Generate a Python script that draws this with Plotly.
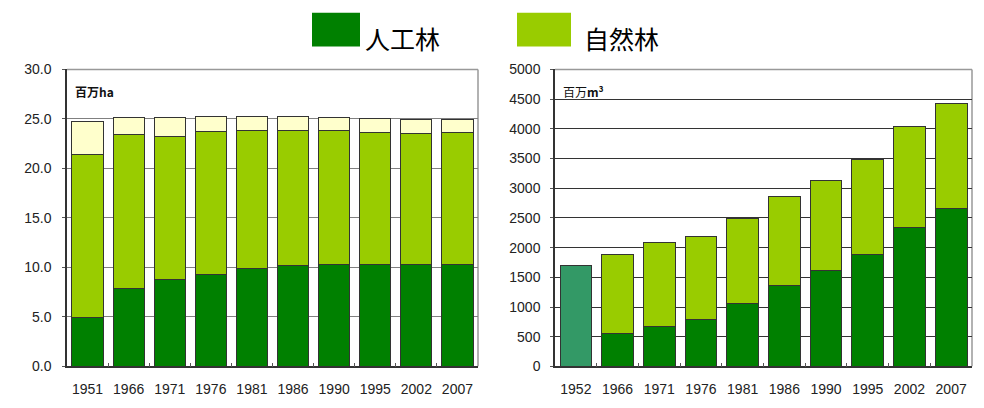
import plotly.graph_objects as go

# ---- data ----
years_area = ["1951", "1966", "1971", "1976", "1981", "1986", "1990", "1995", "2002", "2007"]
area_planted = [4.9, 7.9, 8.8, 9.3, 9.9, 10.2, 10.3, 10.3, 10.3, 10.3]      # 人工林 (百万ha)
area_natural = [16.5, 15.5, 14.4, 14.4, 13.9, 13.6, 13.5, 13.3, 13.2, 13.3]  # 自然林
area_other = [3.3, 1.7, 1.9, 1.5, 1.4, 1.4, 1.3, 1.4, 1.45, 1.35]           # その他

years_stock = ["1952", "1966", "1971", "1976", "1981", "1986", "1990", "1995", "2002", "2007"]
stock_total_only = [1700, None, None, None, None, None, None, None, None, None]  # 総数のみ
stock_planted = [None, 558, 679, 797, 1054, 1366, 1609, 1892, 2335, 2651]        # 人工林 (百万m3)
stock_natural = [None, 1329, 1400, 1389, 1430, 1496, 1529, 1591, 1705, 1781]     # 自然林

area_ticks = [0, 5, 10, 15, 20, 25, 30]
stock_ticks = [0, 500, 1000, 1500, 2000, 2500, 3000, 3500, 4000, 4500, 5000]

# ---- styles ----
C_PLANTED = "#008000"
C_NATURAL = "#99CC00"
C_OTHER = "#FFFFCC"
C_TOTAL = "#339966"
OUTLINE = dict(color="#333333", width=1)
FONT = "Liberation Sans, Arial, sans-serif"
CJK = "Noto Sans CJK JP, sans-serif"

W, H = 984, 408
L1, R1 = 67, 478
L2, R2 = 555, 972
TOP, BOT = 64, 373

def px_x(v):
    return v / W

def px_y(v):
    return 1 - v / H

fig = go.Figure()

fig.add_trace(go.Bar(x=years_area, y=area_planted, marker=dict(color=C_PLANTED, line=OUTLINE),
                     xaxis="x", yaxis="y", name="人工林"))
fig.add_trace(go.Bar(x=years_area, y=area_natural, marker=dict(color=C_NATURAL, line=OUTLINE),
                     xaxis="x", yaxis="y", name="自然林"))
fig.add_trace(go.Bar(x=years_area, y=area_other, marker=dict(color=C_OTHER, line=OUTLINE),
                     xaxis="x", yaxis="y", name="その他"))

fig.add_trace(go.Bar(x=years_stock, y=stock_total_only, marker=dict(color=C_TOTAL, line=OUTLINE),
                     xaxis="x2", yaxis="y2", name="総数"))
fig.add_trace(go.Bar(x=years_stock, y=stock_planted, marker=dict(color=C_PLANTED, line=OUTLINE),
                     xaxis="x2", yaxis="y2", name="人工林"))
fig.add_trace(go.Bar(x=years_stock, y=stock_natural, marker=dict(color=C_NATURAL, line=OUTLINE),
                     xaxis="x2", yaxis="y2", name="自然林"))

ydom = [px_y(BOT), px_y(TOP)]

common_x = dict(type="category", showgrid=False, ticks="inside", tickson="boundaries",
                ticklen=4, tickcolor="#555555", showline=True, linecolor="#333333", linewidth=1.5,
                tickfont=dict(family=FONT, size=14, color="#222222"), ticklabelstandoff=9)

fig.update_layout(
    width=W, height=H,
    margin=dict(l=0, r=0, t=0, b=0),
    paper_bgcolor="white", plot_bgcolor="white",
    barmode="stack", bargap=0.24,
    showlegend=False,
    xaxis=dict(domain=[px_x(L1), px_x(R1)], anchor="y", **common_x),
    yaxis=dict(domain=ydom, anchor="x", range=[0, 30], tickvals=area_ticks,
               ticktext=[f"{v:.1f}" for v in area_ticks],
               showgrid=True, gridcolor="#808080", gridwidth=1,
               showline=True, linecolor="#333333", linewidth=1.5,
               ticks="outside", ticklen=3, tickcolor="#555555",
               tickfont=dict(family=FONT, size=14, color="#222222"), ticklabelstandoff=8,
               zeroline=False),
    xaxis2=dict(domain=[px_x(L2), px_x(R2)], anchor="y2", **common_x),
    yaxis2=dict(domain=ydom, anchor="x2", range=[0, 5000], tickvals=stock_ticks,
                ticktext=[str(v) for v in stock_ticks],
                showgrid=True, gridcolor="#333333", gridwidth=1,
                showline=True, linecolor="#333333", linewidth=1.5,
                ticks="outside", ticklen=3, tickcolor="#555555",
                tickfont=dict(family=FONT, size=14, color="#222222"), ticklabelstandoff=7,
                zeroline=False),
)

# plot-area borders (top / right, gray)
for xr, yr in (("x domain", "y domain"), ("x2 domain", "y2 domain")):
    fig.add_shape(type="line", xref=xr, yref=yr, x0=0, x1=1, y0=1, y1=1,
                  line=dict(color="#999999", width=1.5), layer="below")
    fig.add_shape(type="line", xref=xr, yref=yr, x0=1, x1=1, y0=0, y1=1,
                  line=dict(color="#999999", width=1.5), layer="below")

# unit labels
fig.add_annotation(xref="x domain", yref="y domain", x=0.015, y=0.96, xanchor="left", yanchor="top",
                   text="<b>百万ha</b>", showarrow=False, font=dict(family=CJK, size=12, color="#111111"))
fig.add_annotation(xref="x2 domain", yref="y2 domain", x=0.015, y=0.96, xanchor="left", yanchor="top",
                   text="百万<b>m³</b>", showarrow=False, font=dict(family=CJK, size=12, color="#111111"))

# legend (boxes + text)
legend_items = [("人工林", C_PLANTED, 312, 360, 363), ("自然林", C_NATURAL, 517, 571, 582)]
for label, col, x0, x1, tx in legend_items:
    fig.add_shape(type="rect", xref="paper", yref="paper",
                  x0=px_x(x0), x1=px_x(x1), y0=px_y(40), y1=px_y(5),
                  fillcolor=col, line=dict(width=0))
    fig.add_annotation(xref="paper", yref="paper", x=px_x(tx), y=px_y(31),
                       xanchor="left", yanchor="middle", text=label, showarrow=False,
                       font=dict(family=CJK, size=25, color="#000000"))

fig.write_html("out.html")
